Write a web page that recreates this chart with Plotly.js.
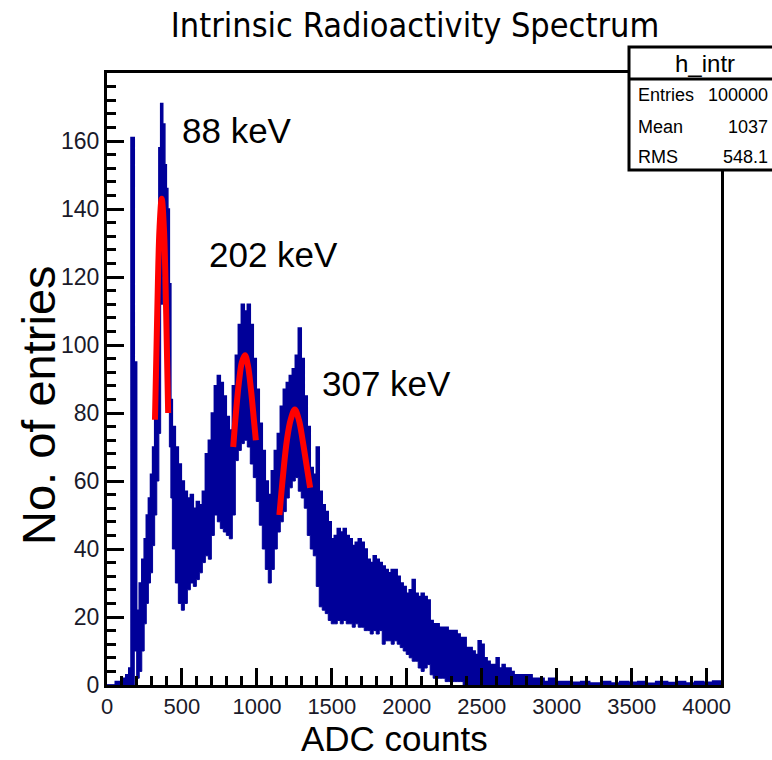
<!DOCTYPE html>
<html>
<head>
<meta charset="utf-8">
<script src="https://cdn.plot.ly/plotly-3.0.1.min.js"></script>
<style>
  html, body { margin: 0; padding: 0; background: #fff; }
  #chart { width: 772px; height: 760px; }
</style>
</head>
<body>
<div id="chart"></div>
<script>
// Histogram h_intr drawn as per-column min/max envelope (left bin edges, ADC counts)
const binEdges = [0,55,105,125,145,160,182,198,215,232,248,262,276,290,304,318,332,346,358,372,386,396,406,416,426,
  436,456,476,496,516,536,556,576,596,616,636,656,676,696,716,736,756,776,796,816,836,856,876,896,916,936,956,976,996,
  1016,1036,1056,1076,1096,1116,1136,1156,1176,1196,1216,1236,1256,1276,1296,1316,1336,1356,1376,1396,1416,1436,1456,1476,1496,
  1516,1536,1556,1576,1596,1616,1636,1656,1676,1696,1716,1736,1756,1776,1796,1816,1836,1856,1876,1896,1916,1936,1956,1976,1996,
  2016,2036,2056,2076,2096,2116,2136,2156,2176,2196,2216,2236,2256,2276,2296,2316,2336,2356,2376,2396,2416,2436,2456,2476,2496,
  2516,2536,2556,2576,2596,2616,2636,2656,2676,2696,2716,2756,2796,2836,2876,2916,2946,2996,
  3040,3100,3160,3220,3300,3360,3420,3480,3540,3600,3660,3740,3800,3860,3920,3980,4040,4096];
const upperCounts = [0,1,2,3,5,161,95,22,30,37,43,50,55,62,70,80,90,158,171,165,153,146,140,118,84,
  76,70,65,60,57,55,56,52,54,53,57,68,72,80,88,91,89,85,79,75,88,97,106,112,110,112,106,96,87,
  77,69,60,56,63,69,74,82,87,89,91,93,97,105,96,85,76,64,62,70,57,53,51,48,43,
  44,46,45,46,44,43,41,42,43,42,40,37,36,38,37,36,35,34,33,34,34,32,30,29,27,
  28,31,27,26,27,26,25,19,18,18,17,17,17,16,16,16,15,14,14,11,11,10,9,13,12,
  8,7,6,6,8,5,6,5,5,4,3,3,3,2,2,1,2,1,
  1,0.8,1,0.6,1,0.6,1,0.8,1,0.5,1,0.7,1,0.6,1,0.8,1.2];
const lowerCounts = [0,0,0,0,0,0,10,2,4,10,18,24,30,33,41,50,60,74,112,120,112,98,84,70,55,
  40,30,24,22,24,28,30,29,31,33,36,38,37,44,50,48,46,45,44,43,50,66,69,71,72,70,65,61,54,
  47,40,34,30,34,40,45,48,51,55,58,60,61,57,55,52,44,40,38,29,23,22,21,19,18,
  18,19,18,19,18,18,17,18,17,17,16,16,15,16,15,16,12,13,13,12,13,12,11,10,9,
  8,7,7,5,4,5,6,3,2,2,2,2,1,1,1,1,1,1,0,0,0,0,0,0,0,
  0,0,0,0,0,0,0,0,0,0,0,0,0,0,0,0,0,0,
  0,0,0,0,0,0,0,0,0,0,0,0,0,0,0,0,0];

// Gaussian fit curves
const fit88x  = [320,335,350,365,380,395,408];
const fit88y  = [78,109,134,143,134,109,80];
const fit202x = [842,860,880,900,920,940,960,980,993];
const fit202y = [70,80,89,95,97,94,87,78,72];
const fit307x = [1150,1175,1200,1225,1253,1280,1305,1330,1355];
const fit307y = [50,62,72,78,81,78,72,65,58];

const peakLabels = ['88 keV','202 keV','307 keV'];
const peakLabelX = [487,667,1420];
const peakLabelY = [163,126.5,88.8];

const xTicks = [0,500,1000,1500,2000,2500,3000,3500,4000];
const yTicks = [0,20,40,60,80,100,120,140,160];

const statsNames = ['Entries','Mean','RMS'];
const statsValues = ['100000','1037','548.1'];

function stepY(arr){ return arr.concat([arr[arr.length-1]]); }
const nb = upperCounts.length;
const xs = binEdges.slice(0, nb+1);

const histColor = '#000099';
const traces = [
  {x: xs, y: stepY(lowerCounts), type:'scatter', mode:'lines', line:{shape:'hv', color:histColor, width:1}, hoverinfo:'skip', showlegend:false},
  {x: xs, y: stepY(upperCounts), type:'scatter', mode:'lines', line:{shape:'hv', color:histColor, width:1.5}, fill:'tonexty', fillcolor:histColor, hoverinfo:'skip', showlegend:false},
  {x: fit88x, y: fit88y, type:'scatter', mode:'lines', line:{shape:'spline', color:'#ff0000', width:6}, showlegend:false},
  {x: fit202x, y: fit202y, type:'scatter', mode:'lines', line:{shape:'spline', color:'#ff0000', width:6}, showlegend:false},
  {x: fit307x, y: fit307y, type:'scatter', mode:'lines', line:{shape:'spline', color:'#ff0000', width:6}, showlegend:false}
];

const L = 107, R = 721, T = 73, B = 685;
const px2x = p => (p - L) / (R - L);
const px2y = p => (B - p) / (B - T);
const SANS = 'Liberation Sans, Arial, sans-serif';

const annotations = [];
peakLabels.forEach((t,i) => annotations.push({
  x: peakLabelX[i], y: peakLabelY[i], xref:'x', yref:'y', text:t, showarrow:false,
  xanchor:'left', yanchor:'middle', font:{family:SANS, size:35, color:'#000'}
}));
// axis titles
annotations.push({x: px2x(394), y: px2y(738), xref:'paper', yref:'paper', text:'ADC counts', showarrow:false,
  xanchor:'center', yanchor:'middle', font:{family:SANS, size:35, color:'#000'}});
annotations.push({x: px2x(38), y: px2y(405), xref:'paper', yref:'paper', text:'No. of entries', showarrow:false,
  textangle:-90, xanchor:'center', yanchor:'middle', font:{family:SANS, size:47, color:'#000'}});
// stats box texts
annotations.push({x: px2x(705), y: px2y(63), xref:'paper', yref:'paper', text:'h_intr', showarrow:false,
  xanchor:'center', yanchor:'middle', font:{family:SANS, size:24, color:'#000'}});
const rowY = [95,126.7,156.7];
statsNames.forEach((n,i) => {
  annotations.push({x: px2x(636), y: px2y(rowY[i]), xref:'paper', yref:'paper', text:n, showarrow:false,
    xanchor:'left', yanchor:'middle', font:{family:SANS, size:18, color:'#000'}});
  annotations.push({x: px2x(770), y: px2y(rowY[i]), xref:'paper', yref:'paper', text:statsValues[i], showarrow:false,
    xanchor:'right', yanchor:'middle', font:{family:SANS, size:18, color:'#000'}});
});

const layout = {
  width: 772, height: 760,
  margin: {l: L, r: 772 - R, t: T, b: 760 - B, pad: 0},
  paper_bgcolor: '#fff', plot_bgcolor: '#fff',
  font: {family: SANS, color: '#000'},
  title: {text: 'Intrinsic Radioactivity Spectrum', x: 415/772, xanchor: 'center', y: 1 - 25/760, yanchor: 'middle',
    font: {family: 'Liberation Sans Narrow, Arial Narrow, DejaVu Sans Condensed, Liberation Sans, sans-serif', size: 34, color: '#000'}},
  xaxis: {
    range: [0, 4096], tickvals: xTicks, ticktext: xTicks.map(String),
    ticks: 'inside', ticklen: 17, tickwidth: 3, tickcolor: '#000',
    minor: {dtick: 100, tick0: 0, ticks: 'inside', ticklen: 9, tickwidth: 3, tickcolor: '#000'},
    showline: true, linewidth: 3, linecolor: '#000', mirror: true,
    showgrid: false, zeroline: false,
    tickfont: {family: SANS, size: 22, color: '#1a1a2a'}
  },
  yaxis: {
    range: [0, 180], tickvals: yTicks, ticktext: yTicks.map(String),
    ticks: 'inside', ticklen: 17, tickwidth: 3, tickcolor: '#000',
    minor: {dtick: 4, tick0: 0, ticks: 'inside', ticklen: 9, tickwidth: 3, tickcolor: '#000'},
    showline: true, linewidth: 3, linecolor: '#000', mirror: true,
    showgrid: false, zeroline: false,
    tickfont: {family: SANS, size: 23, color: '#1a1a2a'}
  },
  shapes: [
    {type:'rect', xref:'paper', yref:'paper', x0: px2x(629), x1: px2x(782), y0: px2y(170), y1: px2y(47),
      line:{color:'#000', width:3}, fillcolor:'#fff', layer:'above'},
    {type:'line', xref:'paper', yref:'paper', x0: px2x(629), x1: px2x(782), y0: px2y(79), y1: px2y(79),
      line:{color:'#000', width:3}, layer:'above'}
  ],
  annotations: annotations,
  showlegend: false
};

Plotly.newPlot('chart', traces, layout, {displayModeBar: false, staticPlot: true});
</script>
</body>
</html>
